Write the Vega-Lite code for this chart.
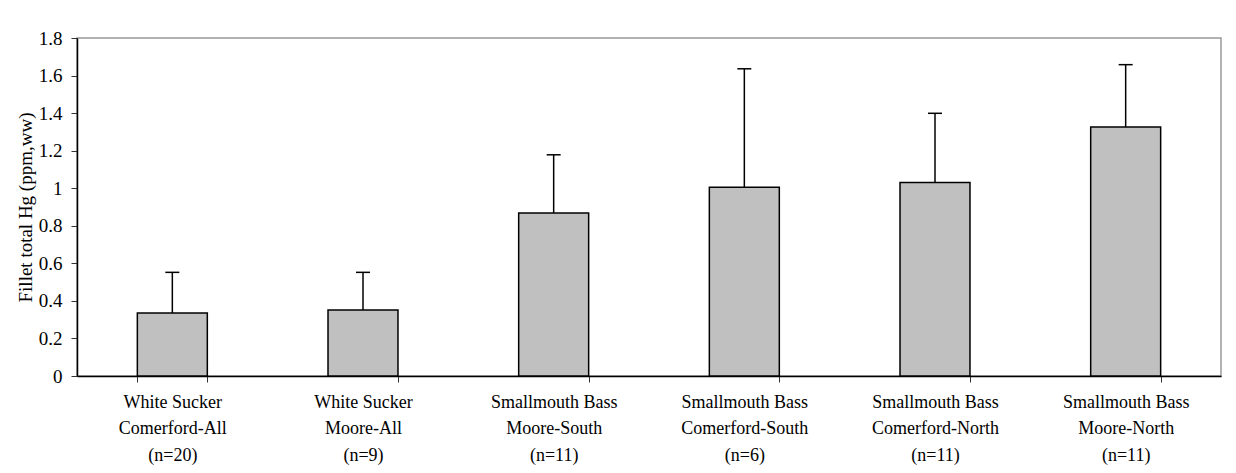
{
  "$schema": "https://vega.github.io/schema/vega-lite/v6.json",
  "width": 1144,
  "height": 338,
  "autosize": {"type": "none"},
  "padding": {"left": 77, "top": 38, "right": 15, "bottom": 97},
  "background": "white",
  "config": {
    "font": "Liberation Serif",
    "view": {"stroke": "#999999", "strokeWidth": 1.5},
    "axisY": {
      "titleFontSize": 19,
      "titleFontWeight": "normal",
      "titleColor": "black",
      "titleX": -52,
      "titleY": 169,
      "titleAngle": -90,
      "titleAlign": "center",
      "titleBaseline": "middle",
      "format": "~g",
      "labelOverlap": false,
      "labelFontSize": 19,
      "labelColor": "black",
      "labelPadding": 9,
      "tickSize": 6,
      "tickColor": "#333333",
      "domainColor": "black",
      "domainWidth": 1.5,
      "grid": false
    }
  },
  "data": {
    "values": [
      {"group": "White Sucker|Comerford-All|(n=20)", "mean": 0.335, "upper": 0.552},
      {"group": "White Sucker|Moore-All|(n=9)", "mean": 0.351, "upper": 0.552},
      {"group": "Smallmouth Bass|Moore-South|(n=11)", "mean": 0.868, "upper": 1.178},
      {"group": "Smallmouth Bass|Comerford-South|(n=6)", "mean": 1.005, "upper": 1.636},
      {"group": "Smallmouth Bass|Comerford-North|(n=11)", "mean": 1.031, "upper": 1.399},
      {"group": "Smallmouth Bass|Moore-North|(n=11)", "mean": 1.326, "upper": 1.658}
    ]
  },
  "encoding": {
    "x": {
      "field": "group",
      "type": "nominal",
      "sort": null,
      "scale": {"paddingInner": 0.633, "paddingOuter": 0.3165},
      "axis": {
        "title": null,
        "labelAngle": 0,
        "labelExpr": "split(datum.label, '|')",
        "labelFontSize": 18,
        "labelColor": "black",
        "labelLineHeight": 26.5,
        "labelBaseline": "top",
        "labelPadding": 11,
        "labelOverlap": false,
        "tickBand": "extent",
        "tickSize": 6,
        "tickColor": "#333333",
        "domainColor": "black",
        "domainWidth": 1.5,
        "labelLimit": 300
      }
    }
  },
  "layer": [
    {
      "mark": {"type": "bar", "fill": "#c0c0c0", "stroke": "black", "strokeWidth": 1.5},
      "encoding": {
        "y": {
          "field": "mean",
          "type": "quantitative",
          "scale": {"domain": [0, 1.8], "nice": false},
          "axis": {
            "title": "Fillet total Hg (ppm,ww)",
            "values": [0, 0.2, 0.4, 0.6, 0.8, 1, 1.2, 1.4, 1.6, 1.8]
          }
        }
      }
    },
    {
      "mark": {"type": "rule", "stroke": "black", "strokeWidth": 1.5},
      "encoding": {
        "y": {
          "field": "mean",
          "type": "quantitative",
          "axis": {
            "title": "Fillet total Hg (ppm,ww)",
            "values": [0, 0.2, 0.4, 0.6, 0.8, 1, 1.2, 1.4, 1.6, 1.8]
          }
        },
        "y2": {"field": "upper"}
      }
    },
    {
      "mark": {"type": "tick", "color": "black", "size": 14, "thickness": 1.5, "opacity": 1},
      "encoding": {
        "y": {
          "field": "upper",
          "type": "quantitative",
          "axis": {
            "title": "Fillet total Hg (ppm,ww)",
            "values": [0, 0.2, 0.4, 0.6, 0.8, 1, 1.2, 1.4, 1.6, 1.8]
          }
        }
      }
    }
  ]
}
